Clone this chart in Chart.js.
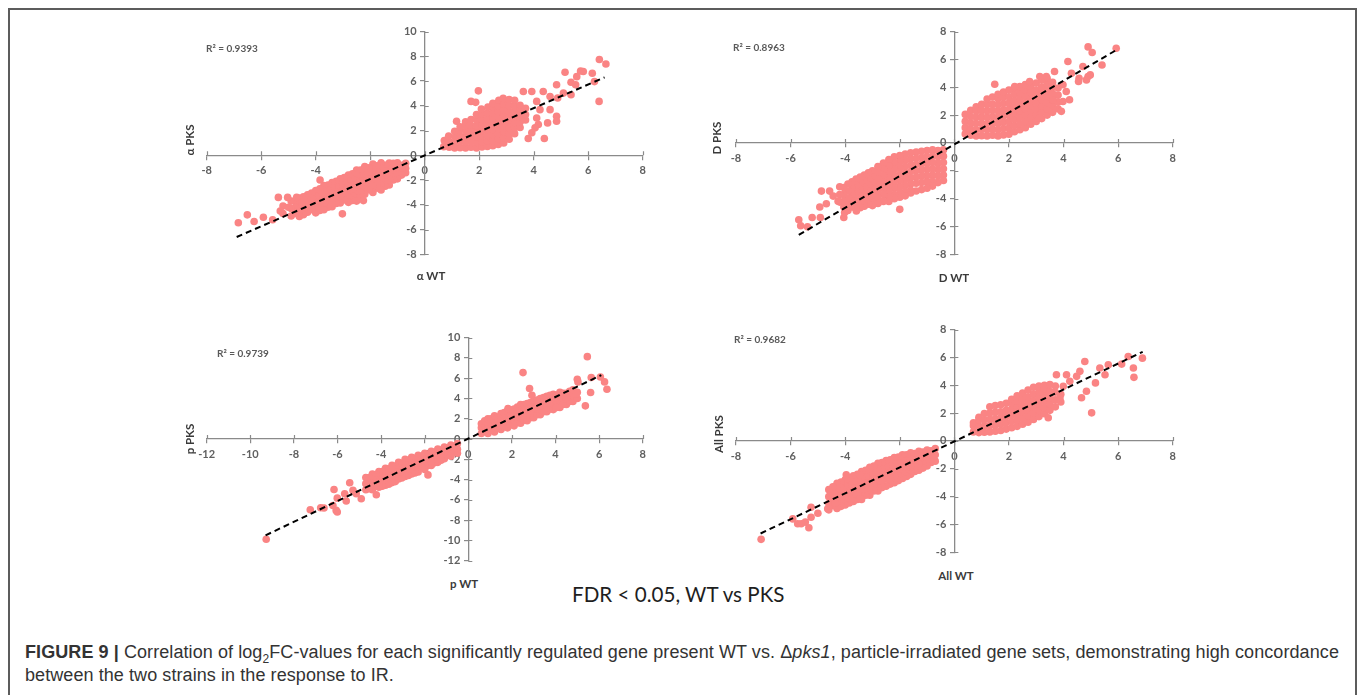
<!DOCTYPE html>
<html>
<head>
<meta charset="utf-8">
<script src="https://cdn.jsdelivr.net/npm/chart.js@4.4.1/dist/chart.umd.min.js"></script>
<style>
    body { margin: 0; background: #fff; width: 1358px; height: 695px; overflow: hidden; position: relative; font-family: Lato, sans-serif; }
    .frame { position: absolute; left: 8px; top: 8px; width: 1345px; height: 720px; border: 2px solid #5c5c5c; border-bottom: none; }
    canvas { position: absolute; }
    .r2 { position: absolute; font: bold 10px Lato; color: #595959; transform: translateY(-50%); white-space: nowrap; }
    .xt { position: absolute; font: bold 11.5px Lato; color: #3a3a3a; transform: translate(-50%, -50%); white-space: nowrap; }
    .yt { position: absolute; font: bold 11.5px Lato; color: #3a3a3a; transform: translate(-50%, -50%) rotate(-90deg); white-space: nowrap; }
    .fdr { position: absolute; left: 572px; top: 594px; transform: translateY(-50%); font: 20.6px Lato; color: #1e1e1e; white-space: nowrap; }
    .caption { position: absolute; left: 25px; top: 641px; font: 18px/23px "Liberation Sans", Arial, sans-serif; letter-spacing: 0.08px; color: #333; white-space: nowrap; }
</style>
</head>
<body>
<div class="frame"></div>

<canvas id="alphaChart" width="480" height="250" style="left:180px;top:20px"></canvas>
<canvas id="dChart" width="480" height="250" style="left:706px;top:20px"></canvas>
<canvas id="pChart" width="480" height="250" style="left:180px;top:326px"></canvas>
<canvas id="allChart" width="480" height="250" style="left:706px;top:318px"></canvas>

<div class="r2" style="left:206px;top:48px">R² = 0.9393</div>
<div class="r2" style="left:733px;top:47px">R² = 0.8963</div>
<div class="r2" style="left:217px;top:353px">R² = 0.9739</div>
<div class="r2" style="left:734px;top:339px">R² = 0.9682</div>

<div class="xt" style="left:431px;top:275px">α WT</div>
<div class="xt" style="left:954px;top:277px">D WT</div>
<div class="xt" style="left:464px;top:583px">p WT</div>
<div class="xt" style="left:956px;top:575px">All WT</div>

<div class="yt" style="left:189px;top:140px">α PKS</div>
<div class="yt" style="left:716px;top:138px">D PKS</div>
<div class="yt" style="left:189px;top:439px">p PKS</div>
<div class="yt" style="left:718px;top:434px">All PKS</div>

<div class="fdr">FDR &lt; 0.05, WT vs PKS</div>

<div class="caption"><b>FIGURE 9 |</b> Correlation of log<sub style="font-size:12px;line-height:0">2</sub>FC-values for each significantly regulated gene present WT vs. Δ<i>pks1</i>, particle-irradiated gene sets, demonstrating high concordance<br>between the two strains in the response to IR.</div>

<script>
// axis ranges [min, max] and tick step
const alphaXRange = [-8, 8];
const alphaYRange = [-8, 10];
const dXRange = [-8, 8];
const dYRange = [-8, 8];
const pXRange = [-12, 8];
const pYRange = [-12, 10];
const allXRange = [-8, 8];
const allYRange = [-8, 8];
const tickStep = 2;

// α panel: dense clouds + scattered genes (log2FC WT, log2FC PKS)
const alphaUp = [
    [0.7,0.7],[0.72,1.2],
    [0.9,0.65],[0.9,1.1],[0.88,1.55],
    [1.1,0.6],[1.1,1.05],[1.12,1.5],[1.1,1.95],
    [1.3,0.62],[1.3,1.1],[1.3,1.55],[1.28,2.0],[1.3,2.3],
    [1.5,0.6],[1.5,1.05],[1.5,1.5],[1.52,1.95],[1.5,2.4],[1.5,2.7],
    [1.7,0.65],[1.7,1.1],[1.7,1.55],[1.7,2.0],[1.68,2.45],[1.7,2.9],
    [1.9,0.6],[1.9,1.05],[1.9,1.5],[1.9,1.95],[1.9,2.4],[1.92,2.85],[1.9,3.3],
    [2.1,0.68],[2.1,1.1],[2.1,1.55],[2.1,2.0],[2.1,2.45],[2.1,2.9],[2.1,3.35],[2.08,3.75],
    [2.3,0.72],[2.3,1.15],[2.3,1.6],[2.3,2.05],[2.3,2.5],[2.3,2.95],[2.3,3.4],[2.32,3.9],
    [2.5,0.78],[2.5,1.2],[2.5,1.65],[2.5,2.1],[2.5,2.55],[2.5,3.0],[2.5,3.45],[2.5,3.9],[2.5,4.2],
    [2.7,0.88],[2.7,1.3],[2.7,1.75],[2.7,2.2],[2.7,2.65],[2.7,3.1],[2.7,3.55],[2.7,4.0],[2.72,4.45],
    [2.9,1.0],[2.9,1.45],[2.9,1.9],[2.9,2.35],[2.9,2.8],[2.9,3.25],[2.9,3.7],[2.9,4.15],[2.88,4.6],
    [3.1,1.3],[3.1,1.75],[3.1,2.2],[3.1,2.65],[3.1,3.1],[3.1,3.55],[3.1,4.0],[3.1,4.5],
    [3.3,1.75],[3.3,2.2],[3.3,2.65],[3.3,3.1],[3.3,3.55],[3.3,4.0],[3.3,4.45],
    [3.5,2.25],[3.5,2.7],[3.5,3.15],[3.5,3.6],[3.5,4.05],
    [3.7,2.85],[3.7,3.3],[3.7,3.8]
];
const alphaDown = [
    [-0.7,-0.65],[-0.7,-1.05],[-0.7,-1.4],
    [-0.85,-0.8],[-0.85,-1.25],[-0.85,-1.6],
    [-1.0,-0.6],[-1.0,-1.05],[-1.0,-1.5],[-1.0,-1.9],
    [-1.15,-0.65],[-1.15,-1.1],[-1.15,-1.55],[-1.15,-2.0],
    [-1.3,-0.62],[-1.3,-1.05],[-1.3,-1.5],[-1.3,-1.95],[-1.3,-2.4],
    [-1.45,-0.8],[-1.45,-1.25],[-1.45,-1.7],[-1.45,-2.15],[-1.45,-2.5],
    [-1.6,-0.6],[-1.6,-1.05],[-1.6,-1.5],[-1.6,-1.95],[-1.6,-2.4],[-1.6,-2.8],
    [-1.75,-0.85],[-1.75,-1.3],[-1.75,-1.75],[-1.75,-2.2],[-1.75,-2.65],
    [-1.9,-0.7],[-1.9,-1.15],[-1.9,-1.6],[-1.9,-2.05],[-1.9,-2.5],[-1.9,-3.0],
    [-2.05,-1.0],[-2.05,-1.45],[-2.05,-1.9],[-2.05,-2.35],[-2.05,-2.8],
    [-2.2,-0.9],[-2.2,-1.35],[-2.2,-1.8],[-2.2,-2.25],[-2.2,-2.7],[-2.2,-3.15],
    [-2.35,-1.2],[-2.35,-1.65],[-2.35,-2.1],[-2.35,-2.55],[-2.35,-3.0],[-2.35,-3.35],
    [-2.5,-1.2],[-2.5,-1.65],[-2.5,-2.1],[-2.5,-2.55],[-2.5,-3.0],[-2.5,-3.45],[-2.5,-3.7],
    [-2.65,-1.5],[-2.65,-1.95],[-2.65,-2.4],[-2.65,-2.85],[-2.65,-3.3],[-2.65,-3.65],
    [-2.8,-1.6],[-2.8,-2.05],[-2.8,-2.5],[-2.8,-2.95],[-2.8,-3.4],[-2.8,-3.8],
    [-2.95,-1.8],[-2.95,-2.25],[-2.95,-2.7],[-2.95,-3.15],[-2.95,-3.6],
    [-3.1,-1.9],[-3.1,-2.35],[-3.1,-2.8],[-3.1,-3.3],[-3.1,-3.85],
    [-3.25,-2.1],[-3.25,-2.55],[-3.25,-3.0],[-3.25,-3.45],[-3.25,-3.9],
    [-3.4,-2.2],[-3.4,-2.65],[-3.4,-3.1],[-3.4,-3.6],[-3.4,-4.15],
    [-3.55,-2.4],[-3.55,-2.85],[-3.55,-3.3],[-3.55,-3.75],[-3.55,-4.2],
    [-3.7,-2.45],[-3.7,-2.9],[-3.7,-3.4],[-3.7,-3.9],[-3.7,-4.4],
    [-3.85,-2.7],[-3.85,-3.15],[-3.85,-3.6],[-3.85,-4.05],[-3.85,-4.45],
    [-4.0,-2.85],[-4.0,-3.3],[-4.0,-3.8],[-4.0,-4.25],[-4.0,-4.65],
    [-4.15,-3.05],[-4.15,-3.5],[-4.15,-3.95],[-4.15,-4.4],
    [-4.3,-3.2],[-4.3,-3.65],[-4.3,-4.1],[-4.3,-4.6],
    [-4.45,-3.35],[-4.45,-3.85],[-4.45,-4.35],[-4.45,-4.8],
    [-4.6,-3.45],[-4.6,-3.95],[-4.6,-4.45],[-4.6,-4.95],
    [-4.75,-3.7],[-4.75,-4.2],[-4.75,-4.7],
    [-4.9,-3.7],[-4.9,-4.3],[-4.9,-4.9],
    [-5.2,-4.1],[-5.2,-4.7]
];
const alphaOut = [
    [6.41,7.75],[6.65,7.38],[6.4,4.36],[6.15,6.63],[6.23,5.96],[5.15,6.71],[5.72,6.82],[5.82,6.77],
    [5.58,6.36],[5.37,5.91],[5.37,4.89],[5.54,5.7],[4.84,5.7],[4.88,4.63],[4.84,3.16],[4.84,2.75],
    [4.51,2.62],[4.39,1.36],[3.8,1.36],[3.93,1.82],[4.11,4.36],[4.35,5.16],[3.93,5.16],[4.23,3.69],
    [4.6,3.69],[4.17,2.49],[3.62,5.16],[1.97,5.21],[1.7,4.36],[1.87,4.28],[1.17,2.75],[4.6,4.76],
    [5.09,5.03],[4.11,3.02],[4.05,2.22],
    [-6.84,-5.45],[-6.51,-4.81],[-6.26,-5.35],[-5.92,-5.0],[-5.58,-5.21],[-5.37,-3.4],[-5.03,-3.4],
    [-4.7,-3.4],[-4.42,-3.66],[-3.84,-2.0],[-3.02,-4.73],[-2.25,-3.66],[-5.3,-4.5],[-5.0,-4.2]
];
const alphaFit = [[-6.9, -6.6], [6.6, 6.3]];

// D panel
const dUp = [
    [0.4,0.65],[0.4,1.1],[0.4,1.55],[0.4,2.05],
    [0.6,0.55],[0.6,1.0],[0.6,1.45],[0.6,1.9],[0.6,2.35],
    [0.8,0.5],[0.8,0.95],[0.8,1.4],[0.8,1.85],[0.8,2.3],[0.8,2.6],
    [1.0,0.52],[1.0,0.97],[1.0,1.42],[1.0,1.87],[1.0,2.32],[1.0,2.77],
    [1.2,0.5],[1.2,0.95],[1.2,1.4],[1.2,1.85],[1.2,2.3],[1.2,2.75],[1.2,3.15],
    [1.4,0.55],[1.4,1.0],[1.4,1.45],[1.4,1.9],[1.4,2.35],[1.4,2.8],[1.4,3.3],
    [1.6,0.5],[1.6,0.95],[1.6,1.4],[1.6,1.85],[1.6,2.3],[1.6,2.75],[1.6,3.2],[1.6,3.5],
    [1.8,0.58],[1.8,1.03],[1.8,1.48],[1.8,1.93],[1.8,2.38],[1.8,2.83],[1.8,3.28],[1.8,3.65],
    [2.0,0.62],[2.0,1.07],[2.0,1.52],[2.0,1.97],[2.0,2.42],[2.0,2.87],[2.0,3.32],[2.0,3.8],
    [2.2,0.8],[2.2,1.25],[2.2,1.7],[2.2,2.15],[2.2,2.6],[2.2,3.05],[2.2,3.5],[2.2,3.95],
    [2.4,0.95],[2.4,1.4],[2.4,1.85],[2.4,2.3],[2.4,2.75],[2.4,3.2],[2.4,3.65],[2.4,4.05],
    [2.6,1.1],[2.6,1.55],[2.6,2.0],[2.6,2.45],[2.6,2.9],[2.6,3.35],[2.6,3.8],[2.6,4.2],
    [2.8,1.35],[2.8,1.8],[2.8,2.25],[2.8,2.7],[2.8,3.15],[2.8,3.6],[2.8,4.05],
    [3.0,1.55],[3.0,2.0],[3.0,2.45],[3.0,2.9],[3.0,3.35],[3.0,3.8],[3.0,4.3],
    [3.2,1.75],[3.2,2.2],[3.2,2.65],[3.2,3.1],[3.2,3.55],[3.2,4.0],[3.2,4.5],
    [3.4,2.0],[3.4,2.45],[3.4,2.9],[3.4,3.35],[3.4,3.8],[3.4,4.25],[3.4,4.65],
    [3.6,2.2],[3.6,2.65],[3.6,3.1],[3.6,3.55],[3.6,4.0],[3.6,4.35],
    [3.8,2.45],[3.8,2.95],[3.8,3.45],[3.8,3.95]
];
const dDown = [
    [-0.4,-0.5],[-0.4,-0.95],[-0.4,-1.4],[-0.4,-1.85],[-0.4,-2.3],[-0.4,-2.7],
    [-0.6,-0.55],[-0.6,-1.0],[-0.6,-1.45],[-0.6,-1.9],[-0.6,-2.35],[-0.6,-2.85],
    [-0.8,-0.5],[-0.8,-0.95],[-0.8,-1.4],[-0.8,-1.85],[-0.8,-2.3],[-0.8,-2.75],[-0.8,-3.1],
    [-1.0,-0.55],[-1.0,-1.0],[-1.0,-1.45],[-1.0,-1.9],[-1.0,-2.35],[-1.0,-2.8],[-1.0,-3.25],
    [-1.2,-0.6],[-1.2,-1.05],[-1.2,-1.5],[-1.2,-1.95],[-1.2,-2.4],[-1.2,-2.85],[-1.2,-3.35],
    [-1.4,-0.65],[-1.4,-1.1],[-1.4,-1.55],[-1.4,-2.0],[-1.4,-2.45],[-1.4,-2.9],[-1.4,-3.45],
    [-1.6,-0.7],[-1.6,-1.15],[-1.6,-1.6],[-1.6,-2.05],[-1.6,-2.5],[-1.6,-2.95],[-1.6,-3.4],[-1.6,-3.6],
    [-1.8,-0.8],[-1.8,-1.25],[-1.8,-1.7],[-1.8,-2.15],[-1.8,-2.6],[-1.8,-3.05],[-1.8,-3.5],[-1.8,-3.8],
    [-2.0,-0.9],[-2.0,-1.35],[-2.0,-1.8],[-2.0,-2.25],[-2.0,-2.7],[-2.0,-3.15],[-2.0,-3.6],[-2.0,-3.9],
    [-2.2,-1.0],[-2.2,-1.45],[-2.2,-1.9],[-2.2,-2.35],[-2.2,-2.8],[-2.2,-3.25],[-2.2,-3.7],[-2.2,-4.0],
    [-2.4,-1.2],[-2.4,-1.65],[-2.4,-2.1],[-2.4,-2.55],[-2.4,-3.0],[-2.4,-3.45],[-2.4,-3.9],[-2.4,-4.2],
    [-2.6,-1.45],[-2.6,-1.9],[-2.6,-2.35],[-2.6,-2.8],[-2.6,-3.25],[-2.6,-3.7],[-2.6,-4.2],
    [-2.8,-1.7],[-2.8,-2.15],[-2.8,-2.6],[-2.8,-3.05],[-2.8,-3.5],[-2.8,-3.95],[-2.8,-4.35],
    [-3.0,-2.0],[-3.0,-2.45],[-3.0,-2.9],[-3.0,-3.35],[-3.0,-3.8],[-3.0,-4.25],[-3.0,-4.5],
    [-3.15,-2.15],[-3.15,-2.6],[-3.15,-3.05],[-3.15,-3.5],[-3.15,-3.95],[-3.15,-4.4],
    [-3.3,-2.3],[-3.3,-2.75],[-3.3,-3.2],[-3.3,-3.65],[-3.3,-4.1],[-3.3,-4.55],
    [-3.45,-2.45],[-3.45,-2.9],[-3.45,-3.35],[-3.45,-3.8],[-3.45,-4.25],[-3.45,-4.65],
    [-3.6,-2.6],[-3.6,-3.05],[-3.6,-3.5],[-3.6,-3.95],[-3.6,-4.4],[-3.6,-4.75],
    [-3.75,-2.8],[-3.75,-3.25],[-3.75,-3.7],[-3.75,-4.15],[-3.75,-4.6],
    [-3.9,-2.95],[-3.9,-3.45],[-3.9,-3.95],[-3.9,-4.45],[-3.9,-4.85],
    [-4.05,-3.2],[-4.05,-3.7],[-4.05,-4.2],[-4.05,-4.6],
    [-4.2,-3.15],[-4.2,-3.7],[-4.2,-4.25]
];
const dOut = [
    [4.9,6.9],[5.05,6.5],[5.93,6.8],[5.41,5.6],[4.9,4.77],[4.98,4.89],[4.84,4.53],[4.71,5.49],
    [4.16,5.85],[4.29,5.01],[4.57,4.65],[4.55,4.41],[4.1,3.7],[3.98,2.98],[3.92,2.27],[3.67,5.13],
    [3.37,4.77],[3.13,4.77],[2.76,4.41],[2.21,4.06],[1.48,4.22],[3.98,4.18],[4.22,3.1],[3.61,3.1],
    [3.13,1.79],
    [-5.7,-5.52],[-5.63,-5.95],[-5.38,-6.02],[-5.21,-5.36],[-4.91,-5.36],[-4.93,-4.6],[-4.69,-4.37],
    [-4.87,-3.46],[-4.44,-3.82],[-4.05,-5.36],[-4.02,-5.0],[-3.59,-4.89],[-2.0,-4.77],[-4.57,-3.46],
    [-4.26,-4.18]
];
const dFit = [[-5.7, -6.6], [6.0, 6.75]];

// p panel
const pUp = [
    [0.6,0.55],[0.6,1.1],[0.6,1.5],
    [0.75,0.8],[0.75,1.35],[0.75,1.8],
    [0.9,0.55],[0.9,1.1],[0.9,1.65],[0.9,2.0],
    [1.05,0.9],[1.05,1.45],[1.05,2.0],
    [1.2,0.7],[1.2,1.25],[1.2,1.8],[1.2,2.3],
    [1.35,1.05],[1.35,1.6],[1.35,2.15],
    [1.5,0.95],[1.5,1.5],[1.5,2.05],[1.5,2.5],
    [1.65,1.2],[1.65,1.75],[1.65,2.3],[1.65,2.6],
    [1.8,1.1],[1.8,1.65],[1.8,2.2],[1.8,2.75],
    [1.95,1.4],[1.95,1.95],[1.95,2.5],[1.95,2.85],
    [2.1,1.3],[2.1,1.85],[2.1,2.4],[2.1,2.95],
    [2.25,1.6],[2.25,2.15],[2.25,2.7],[2.25,3.15],
    [2.4,1.55],[2.4,2.1],[2.4,2.65],[2.4,3.2],[2.4,3.4],
    [2.55,1.85],[2.55,2.4],[2.55,2.95],[2.55,3.4],
    [2.7,1.8],[2.7,2.35],[2.7,2.9],[2.7,3.5],
    [2.85,2.1],[2.85,2.65],[2.85,3.2],[2.85,3.6],
    [3.0,2.1],[3.0,2.65],[3.0,3.2],[3.0,3.75],
    [3.15,2.4],[3.15,2.95],[3.15,3.5],[3.15,3.85],
    [3.3,2.4],[3.3,2.95],[3.3,3.5],[3.3,4.0],
    [3.45,2.7],[3.45,3.25],[3.45,3.8],[3.45,4.1],
    [3.6,2.7],[3.6,3.25],[3.6,3.8],[3.6,4.2],
    [3.75,2.95],[3.75,3.5],[3.75,4.05],[3.75,4.3],
    [3.9,2.9],[3.9,3.45],[3.9,4.0],[3.9,4.4],
    [4.05,3.2],[4.05,3.75],[4.05,4.3],
    [4.2,3.1],[4.2,3.65],[4.2,4.2],[4.2,4.6],
    [4.35,3.4],[4.35,3.95],[4.35,4.5],
    [4.5,3.4],[4.5,3.95],[4.5,4.5],
    [4.65,3.7],[4.65,4.25],[4.65,4.7],
    [4.8,3.7],[4.8,4.25],[4.8,4.85],
    [5.0,4.0],[5.0,4.6]
];
const pDown = [
    [-0.5,-0.45],[-0.5,-1.0],[-0.5,-1.4],
    [-0.65,-0.75],[-0.65,-1.3],
    [-0.8,-0.6],[-0.8,-1.15],[-0.8,-1.7],
    [-0.95,-0.9],[-0.95,-1.5],
    [-1.1,-0.8],[-1.1,-1.35],[-1.1,-1.95],
    [-1.25,-1.1],[-1.25,-1.65],[-1.25,-2.1],
    [-1.4,-1.0],[-1.4,-1.55],[-1.4,-2.1],[-1.4,-2.3],
    [-1.55,-1.3],[-1.55,-1.85],[-1.55,-2.35],
    [-1.7,-1.2],[-1.7,-1.75],[-1.7,-2.3],[-1.7,-2.6],
    [-1.85,-1.5],[-1.85,-2.05],[-1.85,-2.6],
    [-2.0,-1.4],[-2.0,-1.95],[-2.0,-2.5],[-2.0,-3.0],
    [-2.15,-1.7],[-2.15,-2.25],[-2.15,-2.8],
    [-2.3,-1.6],[-2.3,-2.15],[-2.3,-2.7],[-2.3,-3.25],
    [-2.45,-1.9],[-2.45,-2.45],[-2.45,-3.0],[-2.45,-3.35],
    [-2.6,-1.8],[-2.6,-2.35],[-2.6,-2.9],[-2.6,-3.45],
    [-2.75,-2.1],[-2.75,-2.65],[-2.75,-3.2],[-2.75,-3.6],
    [-2.9,-2.0],[-2.9,-2.55],[-2.9,-3.1],[-2.9,-3.7],
    [-3.05,-2.4],[-3.05,-2.95],[-3.05,-3.5],[-3.05,-3.85],
    [-3.2,-2.3],[-3.2,-2.85],[-3.2,-3.4],[-3.2,-3.95],
    [-3.35,-2.7],[-3.35,-3.25],[-3.35,-3.8],[-3.35,-4.2],
    [-3.5,-2.6],[-3.5,-3.15],[-3.5,-3.7],[-3.5,-4.3],
    [-3.65,-2.95],[-3.65,-3.5],[-3.65,-4.05],[-3.65,-4.45],
    [-3.8,-2.9],[-3.8,-3.45],[-3.8,-4.0],[-3.8,-4.55],
    [-3.95,-3.2],[-3.95,-3.75],[-3.95,-4.3],[-3.95,-4.65],
    [-4.1,-3.2],[-4.1,-3.75],[-4.1,-4.3],[-4.1,-4.75],
    [-4.25,-3.5],[-4.25,-4.05],[-4.25,-4.6],
    [-4.4,-3.45],[-4.4,-4.0],[-4.4,-4.55],[-4.4,-5.0],
    [-4.55,-3.8],[-4.55,-4.35],[-4.55,-4.9],
    [-4.7,-3.8],[-4.7,-4.4],[-4.7,-5.0]
];
const pOut = [
    [5.46,8.12],[2.51,6.55],[2.81,4.98],[2.92,4.32],[5.0,5.89],[5.03,5.63],[5.64,6.06],[6.06,6.12],
    [6.25,5.63],[6.36,4.91],[5.61,4.58],[5.37,3.27],[4.95,4.42],[4.5,4.09],[1.82,3.0],[4.04,3.11],
    [-9.27,-9.89],[-7.25,-6.97],[-6.77,-6.78],[-6.62,-6.81],[-6.21,-6.55],[-6.06,-7.04],[-6.01,-7.2],
    [-6.16,-4.98],[-6.01,-5.83],[-5.67,-5.4],[-5.6,-6.12],[-5.44,-4.32],[-5.29,-5.07],[-4.91,-5.89],
    [-5.14,-5.4],[-4.22,-5.5],[-1.85,-3.54]
];
const pFit = [[-9.3, -9.5], [6.1, 6.3]];

// All panel
const allUp = [
    [0.7,0.65],[0.7,1.1],[0.7,1.3],
    [0.9,0.6],[0.9,1.05],[0.9,1.5],[0.9,1.7],
    [1.1,0.62],[1.1,1.07],[1.1,1.52],[1.1,1.97],
    [1.3,0.65],[1.3,1.1],[1.3,1.55],[1.3,2.0],[1.3,2.45],
    [1.5,0.7],[1.5,1.15],[1.5,1.6],[1.5,2.05],[1.5,2.55],
    [1.7,0.75],[1.7,1.2],[1.7,1.65],[1.7,2.1],[1.7,2.6],
    [1.9,0.85],[1.9,1.3],[1.9,1.75],[1.9,2.2],[1.9,2.7],
    [2.1,0.95],[2.1,1.4],[2.1,1.85],[2.1,2.3],[2.1,2.75],[2.1,3.0],
    [2.3,1.05],[2.3,1.5],[2.3,1.95],[2.3,2.4],[2.3,2.85],[2.3,3.25],
    [2.5,1.2],[2.5,1.65],[2.5,2.1],[2.5,2.55],[2.5,3.0],[2.5,3.45],
    [2.7,1.35],[2.7,1.8],[2.7,2.25],[2.7,2.7],[2.7,3.15],[2.7,3.65],
    [2.9,1.55],[2.9,2.0],[2.9,2.45],[2.9,2.9],[2.9,3.35],[2.9,3.85],
    [3.1,1.75],[3.1,2.2],[3.1,2.65],[3.1,3.1],[3.1,3.55],[3.1,3.95],
    [3.3,1.95],[3.3,2.4],[3.3,2.85],[3.3,3.3],[3.3,3.75],[3.3,4.0],
    [3.5,2.2],[3.5,2.65],[3.5,3.1],[3.5,3.55],[3.5,4.05],
    [3.7,2.45],[3.7,2.95],[3.7,3.5],[3.7,3.95],
    [3.9,2.8],[3.9,3.35]
];
const allDown = [
    [-0.7,-0.55],[-0.7,-1.0],[-0.7,-1.45],
    [-0.85,-0.7],[-0.85,-1.15],[-0.85,-1.55],
    [-1.0,-0.65],[-1.0,-1.1],[-1.0,-1.55],[-1.0,-1.8],
    [-1.15,-0.8],[-1.15,-1.25],[-1.15,-1.7],[-1.15,-1.95],
    [-1.3,-0.75],[-1.3,-1.2],[-1.3,-1.65],[-1.3,-2.1],
    [-1.45,-0.9],[-1.45,-1.35],[-1.45,-1.8],[-1.45,-2.2],
    [-1.6,-0.85],[-1.6,-1.3],[-1.6,-1.75],[-1.6,-2.2],[-1.6,-2.4],
    [-1.75,-1.0],[-1.75,-1.45],[-1.75,-1.9],[-1.75,-2.35],[-1.75,-2.55],
    [-1.9,-1.0],[-1.9,-1.45],[-1.9,-1.9],[-1.9,-2.35],[-1.9,-2.7],
    [-2.05,-1.15],[-2.05,-1.6],[-2.05,-2.05],[-2.05,-2.5],[-2.05,-2.85],
    [-2.2,-1.2],[-2.2,-1.65],[-2.2,-2.1],[-2.2,-2.55],[-2.2,-3.0],
    [-2.35,-1.35],[-2.35,-1.8],[-2.35,-2.25],[-2.35,-2.7],[-2.35,-3.1],
    [-2.5,-1.4],[-2.5,-1.85],[-2.5,-2.3],[-2.5,-2.75],[-2.5,-3.25],
    [-2.65,-1.55],[-2.65,-2.0],[-2.65,-2.45],[-2.65,-2.9],[-2.65,-3.35],
    [-2.8,-1.6],[-2.8,-2.05],[-2.8,-2.5],[-2.8,-2.95],[-2.8,-3.4],[-2.8,-3.6],
    [-2.95,-1.8],[-2.95,-2.25],[-2.95,-2.7],[-2.95,-3.15],[-2.95,-3.6],
    [-3.1,-1.9],[-3.1,-2.35],[-3.1,-2.8],[-3.1,-3.25],[-3.1,-3.7],[-3.1,-3.9],
    [-3.25,-2.1],[-3.25,-2.55],[-3.25,-3.0],[-3.25,-3.45],[-3.25,-3.9],
    [-3.4,-2.2],[-3.4,-2.65],[-3.4,-3.1],[-3.4,-3.55],[-3.4,-4.0],[-3.4,-4.2],
    [-3.55,-2.4],[-3.55,-2.85],[-3.55,-3.3],[-3.55,-3.75],[-3.55,-4.2],
    [-3.7,-2.5],[-3.7,-2.95],[-3.7,-3.4],[-3.7,-3.85],[-3.7,-4.35],
    [-3.85,-2.7],[-3.85,-3.15],[-3.85,-3.6],[-3.85,-4.05],[-3.85,-4.45],
    [-4.0,-2.8],[-4.0,-3.25],[-4.0,-3.7],[-4.0,-4.15],[-4.0,-4.6],
    [-4.15,-2.95],[-4.15,-3.4],[-4.15,-3.85],[-4.15,-4.3],[-4.15,-4.7],
    [-4.3,-3.05],[-4.3,-3.5],[-4.3,-3.95],[-4.3,-4.4],[-4.3,-4.85],
    [-4.45,-3.3],[-4.45,-3.75],[-4.45,-4.2],[-4.45,-4.65],
    [-4.6,-3.5],[-4.6,-4.0],[-4.6,-4.5],[-4.6,-4.95]
];
const allOut = [
    [6.37,6.07],[6.89,5.95],[6.56,5.24],[6.13,5.52],[6.58,4.57],[5.64,5.48],[5.52,4.76],[5.33,5.24],
    [5.17,4.17],[5.03,2.02],[4.84,3.57],[4.78,5.71],[4.6,5.0],[4.48,4.64],[4.66,3.1],[3.99,3.93],
    [3.74,4.76],[4.11,4.76],[3.44,1.67],[4.23,4.29],[3.87,3.1],
    [-7.08,-7.07],[-5.92,-5.6],[-5.74,-5.95],[-5.61,-5.95],[-5.46,-5.83],[-5.33,-6.24],[-5.25,-4.76],
    [-5.25,-5.48],[-5.0,-5.19],[-4.64,-4.88],[-4.39,-3.81],[-3.96,-2.43],[-3.47,-2.43],[-4.37,-4.48]
];
const allFit = [[-7.1, -6.65], [6.9, 6.4]];

const pointColor = '#fa8484';
const axisColor = '#8a8a8a';

// Excel-style "cross" tick marks: draw the half Chart.js leaves out
const crossTicks = {
    id: 'crossTicks',
    beforeDatasetsDraw(chart) {
        const ctx = chart.ctx;
        const xs = chart.scales.x;
        const ys = chart.scales.y;
        const x0 = xs.getPixelForValue(0);
        const y0 = ys.getPixelForValue(0);
        ctx.save();
        ctx.strokeStyle = axisColor;
        ctx.lineWidth = 1.2;
        ctx.beginPath();
        xs.ticks.forEach(t => {
            const px = Math.round(xs.getPixelForValue(t.value)) + 0.5;
            ctx.moveTo(px, y0 - 4);
            ctx.lineTo(px, y0);
        });
        ys.ticks.forEach(t => {
            const py = Math.round(ys.getPixelForValue(t.value)) + 0.5;
            ctx.moveTo(x0, py);
            ctx.lineTo(x0 + 4, py);
        });
        ctx.stroke();
        ctx.restore();
    }
};

function toXY(list) {
    return list.map(([x, y]) => ({ x, y }));
}

function axisOptions(range, pos, isY) {
    return {
        type: 'linear',
        min: range[0],
        max: range[1],
        position: pos,
        ticks: {
            stepSize: tickStep,
            autoSkip: false,
            maxRotation: 0,
            padding: 5,
            color: '#606060',
            font: { family: 'Lato', size: 11, weight: 'bold' },
            // object-positioned y axes put labels flush on the line, so leave a gap
            callback: (v) => isY ? v + '   ' : String(v)
        },
        grid: { drawOnChartArea: false, drawTicks: true, tickLength: 4, color: axisColor, lineWidth: 1.2 },
        border: { display: true, color: axisColor, width: 1.3 }
    };
}

function makePanel(id, points, fit, xRange, yRange, pad) {
    return new Chart(document.getElementById(id), {
        type: 'scatter',
        data: {
            datasets: [
                {
                    data: toXY(fit),
                    showLine: true,
                    borderColor: '#000',
                    borderWidth: 2,
                    borderDash: [6, 4],
                    pointRadius: 0,
                    order: 0
                },
                {
                    data: toXY(points),
                    pointRadius: 3.8,
                    pointBackgroundColor: pointColor,
                    pointBorderWidth: 0,
                    order: 1
                }
            ]
        },
        options: {
            responsive: false,
            animation: false,
            events: [],
            layout: { padding: pad },
            plugins: { legend: { display: false }, tooltip: { enabled: false } },
            scales: {
                x: axisOptions(xRange, { y: 0 }, false),
                y: axisOptions(yRange, { x: 0 }, true)
            }
        },
        plugins: [crossTicks]
    });
}

makePanel('alphaChart', alphaUp.concat(alphaDown, alphaOut), alphaFit, alphaXRange, alphaYRange,
    { left: 26.7, right: 17.3, top: 10, bottom: 15.7 });
makePanel('dChart', dUp.concat(dDown, dOut), dFit, dXRange, dYRange,
    { left: 30, right: 13.3, top: 10, bottom: 15.7 });
makePanel('pChart', pUp.concat(pDown, pOut), pFit, pXRange, pYRange,
    { left: 26.7, right: 17.3, top: 10.7, bottom: 15.3 });
makePanel('allChart', allUp.concat(allDown, allOut), allFit, allXRange, allYRange,
    { left: 30, right: 13.3, top: 10.3, bottom: 15.7 });
</script>
</body>
</html>
